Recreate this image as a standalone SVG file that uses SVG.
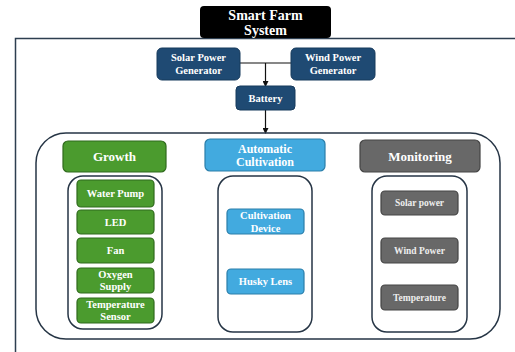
<svg xmlns="http://www.w3.org/2000/svg" width="515" height="352" viewBox="0 0 515 352">
<defs>
<marker id="arr" markerWidth="6" markerHeight="6" refX="5" refY="3" orient="auto" markerUnits="userSpaceOnUse">
<path d="M0,0 L6,3 L0,6 Z" fill="#111"/>
</marker>
<style>
text{font-family:"Liberation Serif","DejaVu Serif",serif;font-weight:bold;fill:#fff;text-anchor:middle;dominant-baseline:central}
.frame{fill:none;stroke:#2d3e50;stroke-width:1.5}
.box{fill:none;stroke:#263545;stroke-width:1.5}
.navy{fill:#1f4a73;stroke:#173a5c;stroke-width:1}
.green{fill:#4b9b2e;stroke:#2f6a1c;stroke-width:1.2}
.blue{fill:#42aadf;stroke:#2a7eaa;stroke-width:1.2}
.gray{fill:#686868;stroke:#444;stroke-width:1.2}
.line{stroke:#111;stroke-width:1.2;fill:none}
.t13{font-size:14px}
.t11{font-size:12px}
.t12{font-size:13px}
.t10{font-size:10.5px}
.t9{font-size:9.5px;fill:#eee}
</style>
</defs>
<rect width="515" height="352" fill="#fff"/>
<rect class="frame" x="15.5" y="38.5" width="520" height="330"/>
<g id="title">
<rect x="200" y="6" width="131" height="32" rx="4" fill="#000"/>
<text class="t13" x="265.5" y="15">Smart Farm</text>
<text class="t13" x="265.5" y="30">System</text>
</g>
<g id="connectors">
<line class="line" x1="240" y1="63" x2="291" y2="63"/>
<line class="line" x1="265.5" y1="63" x2="265.5" y2="86" marker-end="url(#arr)"/>
<line class="line" x1="265.5" y1="110" x2="265.5" y2="133" marker-end="url(#arr)"/>
</g>
<g id="solar">
<rect class="navy" x="157" y="48" width="83" height="32" rx="5"/>
<text class="t10" x="198.5" y="57.5">Solar Power</text>
<text class="t10" x="198.5" y="70.5">Generator</text>
</g>
<g id="wind">
<rect class="navy" x="291" y="48" width="84" height="32" rx="5"/>
<text class="t10" x="333" y="57.5">Wind Power</text>
<text class="t10" x="333" y="70.5">Generator</text>
</g>
<g id="battery">
<rect class="navy" x="236" y="86" width="59" height="24" rx="4"/>
<text class="t10" x="265.5" y="98">Battery</text>
</g>
<g id="main">
<rect class="box" x="36" y="133" width="464" height="206" rx="30"/>
</g>
<g id="growth">
<rect class="green" x="63" y="141" width="103" height="31" rx="5"/>
<text class="t12" x="114.5" y="156.5">Growth</text>
</g>
<g id="growth-list">
<rect class="box" x="68" y="176" width="94" height="153" rx="15"/>
</g>
<g id="water-pump">
<rect class="green" x="77" y="180" width="77" height="27" rx="4"/>
<text class="t10" x="115.5" y="193.5">Water Pump</text>
</g>
<g id="led">
<rect class="green" x="77" y="210" width="77" height="24" rx="4"/>
<text class="t10" x="115.5" y="222">LED</text>
</g>
<g id="fan">
<rect class="green" x="77" y="238" width="77" height="25" rx="4"/>
<text class="t10" x="115.5" y="250.5">Fan</text>
</g>
<g id="oxygen">
<rect class="green" x="77" y="268" width="77" height="25" rx="4"/>
<text class="t10" x="115.5" y="274.5">Oxygen</text>
<text class="t10" x="115.5" y="286.5">Supply</text>
</g>
<g id="temp-sensor">
<rect class="green" x="77" y="298" width="77" height="25" rx="4"/>
<text class="t10" x="115.5" y="304">Temperature</text>
<text class="t10" x="115.5" y="316">Sensor</text>
</g>
<g id="auto">
<rect class="blue" x="205" y="139" width="120" height="32" rx="5"/>
<text class="t11" x="265" y="148.5">Automatic</text>
<text class="t11" x="265" y="162">Cultivation</text>
</g>
<g id="auto-list">
<rect class="box" x="218" y="176" width="94" height="156" rx="15"/>
</g>
<g id="cult-device">
<rect class="blue" x="227" y="209" width="77" height="25" rx="4"/>
<text class="t10" x="265.5" y="215.5">Cultivation</text>
<text class="t10" x="265.5" y="228">Device</text>
</g>
<g id="husky">
<rect class="blue" x="227" y="269" width="77" height="25" rx="4"/>
<text class="t10" x="265.5" y="281.5">Husky Lens</text>
</g>
<g id="monitoring">
<rect class="gray" x="360" y="140" width="120" height="32" rx="5"/>
<text class="t12" x="420" y="156">Monitoring</text>
</g>
<g id="mon-list">
<rect class="box" x="372" y="176" width="95" height="156" rx="15"/>
</g>
<g id="solar-power">
<rect class="gray" x="381" y="191" width="77" height="24" rx="4"/>
<text class="t9" x="419.5" y="203">Solar power</text>
</g>
<g id="wind-power">
<rect class="gray" x="381" y="238" width="77" height="25" rx="4"/>
<text class="t9" x="419.5" y="250.5">Wind Power</text>
</g>
<g id="temperature">
<rect class="gray" x="381" y="285" width="77" height="25" rx="4"/>
<text class="t9" x="419.5" y="297.5">Temperature</text>
</g>
</svg>
